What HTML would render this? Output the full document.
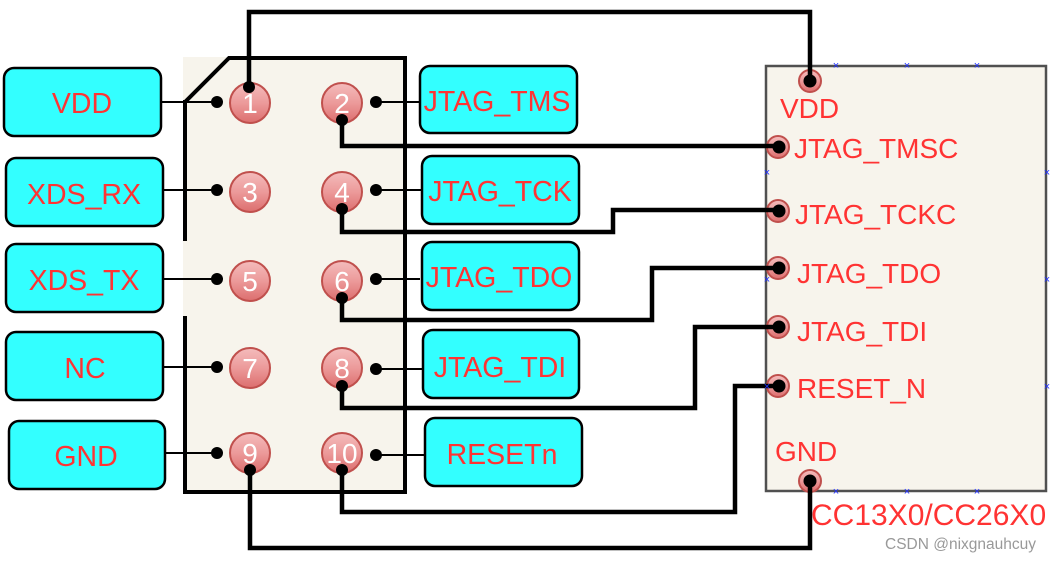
<!DOCTYPE html>
<html><head><meta charset="utf-8"><style>
html,body{margin:0;padding:0;background:#fff;width:1053px;height:562px;overflow:hidden}
svg{display:block}
text{font-family:"Liberation Sans",sans-serif}
</style></head><body>
<svg width="1053" height="562" viewBox="0 0 1053 562" xmlns="http://www.w3.org/2000/svg">
<defs>
<linearGradient id="pg" x1="0" y1="0" x2="0" y2="1">
<stop offset="0" stop-color="#f4bcbc"/><stop offset="0.5" stop-color="#ec9a9a"/><stop offset="1" stop-color="#dc6e6e"/>
</linearGradient>
</defs>
<rect x="183" y="57" width="222" height="435" fill="#f7f4ec"/>
<rect x="766" y="66" width="280" height="425" fill="#f7f4ec" stroke="#505050" stroke-width="2.5"/>
<g fill="none" stroke="#000" stroke-width="4" stroke-linecap="square">
<polyline points="185,102 229,58 405,58 405,492 185,492 185,318"/>
<line x1="185" y1="102" x2="185" y2="239"/>
</g>
<g stroke="#000" stroke-width="2">
<line x1="161" y1="102" x2="217" y2="102"/>
<line x1="163" y1="190" x2="217" y2="190"/>
<line x1="163" y1="279" x2="217" y2="279"/>
<line x1="163" y1="367" x2="217" y2="367"/>
<line x1="165" y1="453" x2="217" y2="453"/>
<line x1="376" y1="102" x2="420" y2="102"/>
<line x1="376" y1="190" x2="422" y2="190"/>
<line x1="376" y1="279" x2="420" y2="279"/>
<line x1="376" y1="369" x2="424" y2="369"/>
<line x1="376" y1="455" x2="425" y2="455"/>
</g>
<g fill="#33ffff" stroke="#000" stroke-width="2.5">
<rect x="4" y="68" width="157" height="68" rx="10"/>
<rect x="6" y="158" width="157" height="68" rx="10"/>
<rect x="6" y="244" width="157" height="68" rx="10"/>
<rect x="6" y="332" width="157" height="68" rx="10"/>
<rect x="9" y="421" width="156" height="68" rx="10"/>
<rect x="420" y="66" width="157" height="67" rx="10"/>
<rect x="422" y="156" width="157" height="68" rx="10"/>
<rect x="422" y="242" width="157" height="68" rx="10"/>
<rect x="423" y="330" width="156" height="68" rx="10"/>
<rect x="425" y="418" width="157" height="68" rx="10"/>
</g>
<g fill="#ff3333" font-size="28.5" text-anchor="middle">
<text x="82" y="113">VDD</text>
<text x="84" y="204">XDS_RX</text>
<text x="84" y="290">XDS_TX</text>
<text x="85" y="378">NC</text>
<text x="86" y="466">GND</text>
<text x="497" y="111">JTAG_TMS</text>
<text x="500" y="201">JTAG_TCK</text>
<text x="499" y="287">JTAG_TDO</text>
<text x="500" y="377">JTAG_TDI</text>
<text x="502" y="464">RESETn</text>
</g>
<g fill="url(#pg)" stroke="#c0504d" stroke-width="2">
<circle cx="250" cy="103" r="20"/><circle cx="342" cy="103" r="20"/>
<circle cx="250" cy="192" r="20"/><circle cx="342" cy="192" r="20"/>
<circle cx="250" cy="281" r="20"/><circle cx="342" cy="281" r="20"/>
<circle cx="250" cy="368" r="20"/><circle cx="342" cy="368" r="20"/>
<circle cx="250" cy="453" r="20"/><circle cx="342" cy="453" r="20"/>
<circle cx="810" cy="81" r="11"/><circle cx="778" cy="147" r="11"/>
<circle cx="778" cy="211" r="11"/><circle cx="778" cy="268" r="11"/>
<circle cx="778" cy="327" r="11"/><circle cx="778" cy="386" r="11"/>
<circle cx="810" cy="481" r="11"/>
</g>
<g fill="#fff" font-size="28" text-anchor="middle">
<text x="250" y="113">1</text><text x="342" y="113">2</text>
<text x="250" y="202">3</text><text x="342" y="202">4</text>
<text x="250" y="291">5</text><text x="342" y="291">6</text>
<text x="250" y="378">7</text><text x="342" y="378">8</text>
<text x="250" y="463">9</text><text x="342" y="463">10</text>
</g>
<g fill="#000">
<circle cx="217" cy="102" r="6"/><circle cx="217" cy="190" r="6"/><circle cx="217" cy="279" r="6"/>
<circle cx="217" cy="367" r="6"/><circle cx="217" cy="453" r="6"/>
<circle cx="376" cy="102" r="6"/><circle cx="376" cy="190" r="6"/><circle cx="376" cy="279" r="6"/>
<circle cx="376" cy="369" r="6"/><circle cx="376" cy="455" r="6"/>
<circle cx="249" cy="87" r="6"/><circle cx="342" cy="120" r="6"/><circle cx="342" cy="209" r="6"/>
<circle cx="342" cy="298" r="6"/><circle cx="342" cy="386" r="6"/><circle cx="342" cy="470" r="6"/>
<circle cx="250" cy="470" r="6"/>
<circle cx="810" cy="81" r="6.5"/><circle cx="779" cy="147" r="6.5"/><circle cx="779" cy="211" r="6.5"/>
<circle cx="779" cy="268" r="6.5"/><circle cx="779" cy="327" r="6.5"/><circle cx="779" cy="386" r="6.5"/>
<circle cx="810" cy="481" r="6.5"/>
</g>
<g fill="none" stroke="#000" stroke-width="4.5">
<polyline points="249,87 249,12 810,12 810,81"/>
<polyline points="342,120 342,146 780,146"/>
<polyline points="342,209 342,232 613,232 613,210 780,210"/>
<polyline points="342,298 342,320 652,320 652,268 780,268"/>
<polyline points="342,386 342,408 695,408 695,327 780,327"/>
<polyline points="342,470 342,512 735,512 735,386 780,386"/>
<polyline points="250,470 250,548 810,548 810,481"/>
</g>
<g fill="#2030ff" font-size="11" text-anchor="middle">
<text x="836" y="69">×</text><text x="907" y="69">×</text><text x="977" y="69">×</text>
<text x="767" y="176">×</text><text x="1047" y="176">×</text>
<text x="767" y="283">×</text><text x="1047" y="283">×</text>
<text x="767" y="390">×</text><text x="1047" y="390">×</text>
<text x="836" y="495">×</text><text x="907" y="495">×</text><text x="977" y="495">×</text>
</g>
<g fill="#ff3333" font-size="28">
<text x="780" y="118">VDD</text>
<text x="794" y="158">JTAG_TMSC</text>
<text x="795" y="224">JTAG_TCKC</text>
<text x="797" y="283">JTAG_TDO</text>
<text x="797" y="341">JTAG_TDI</text>
<text x="797" y="398">RESET_N</text>
<text x="775" y="461">GND</text>
<text x="811" y="525" font-size="30">CC13X0/CC26X0</text>
</g>
<text x="885" y="549" font-size="15.5" fill="#999">CSDN @nixgnauhcuy</text>
</svg>
</body></html>
